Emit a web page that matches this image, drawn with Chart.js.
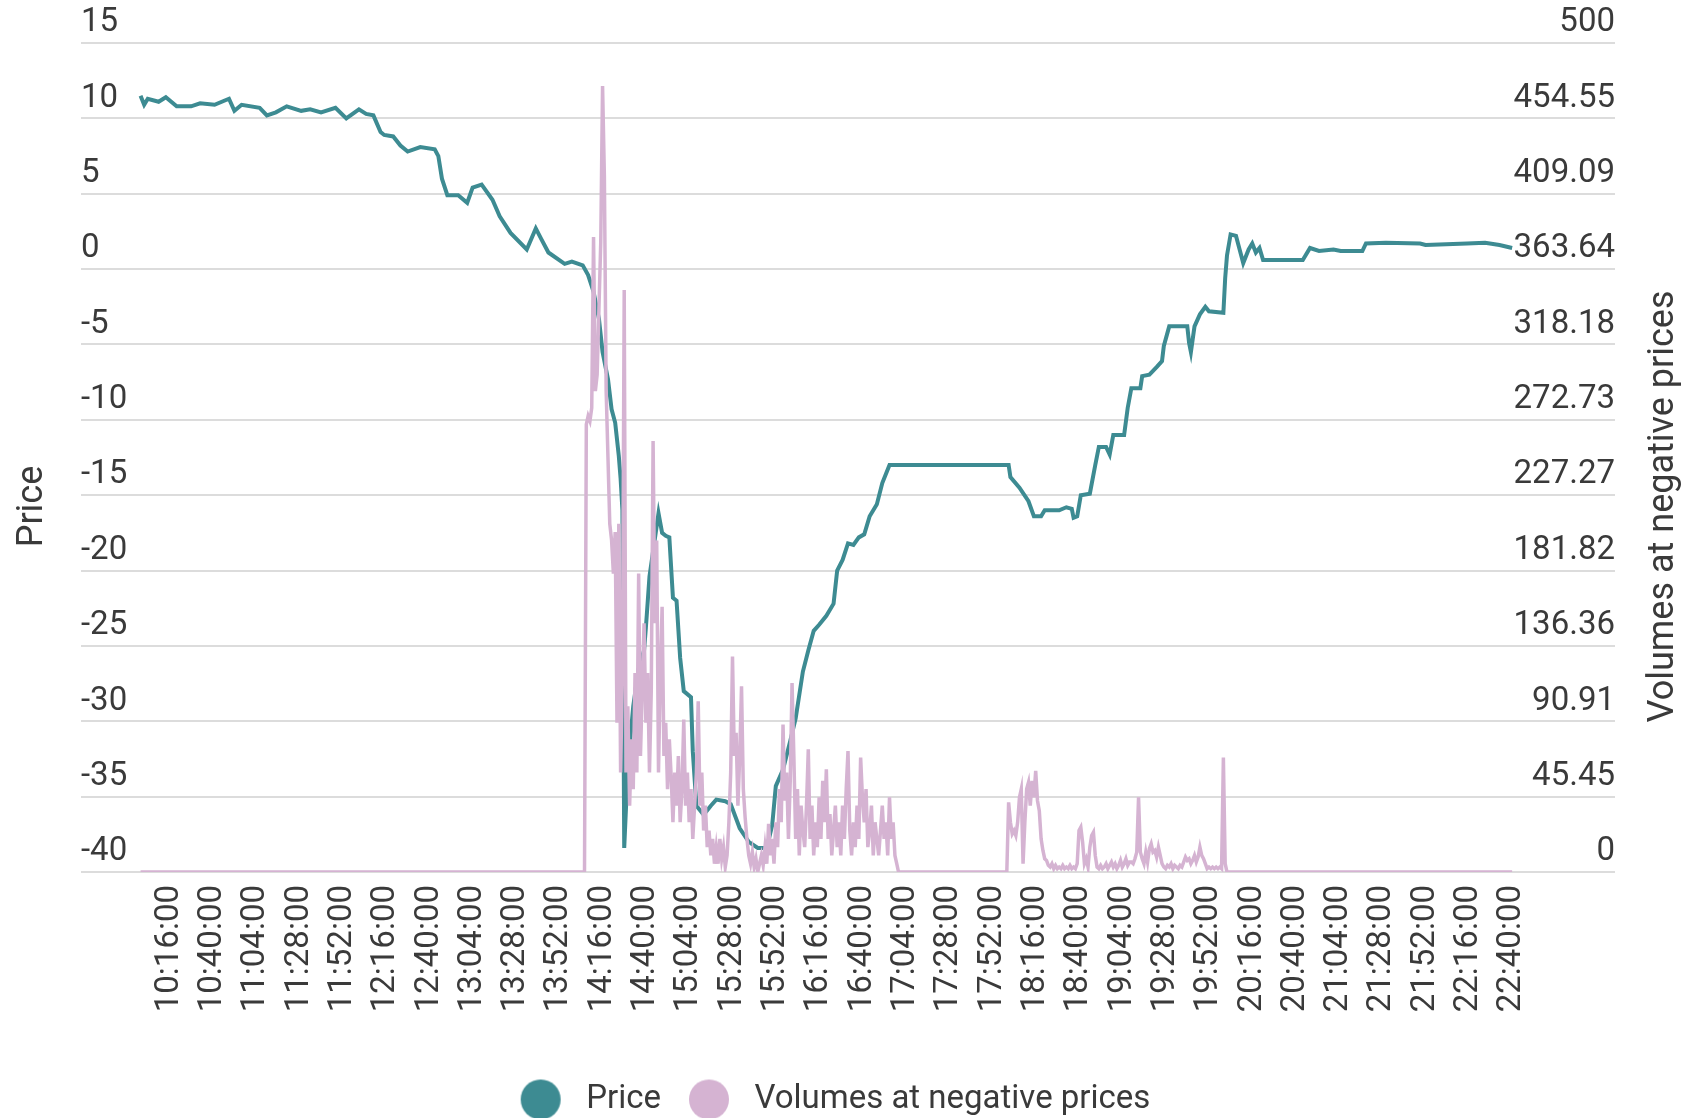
<!DOCTYPE html>
<html>
<head>
<meta charset="utf-8">
<title>Price and volumes at negative prices</title>
<script src="https://cdn.jsdelivr.net/npm/chart.js@4.4.1/dist/chart.umd.min.js"></script>
<style>
  html, body { margin: 0; padding: 0; background: #fff; }
  #chart { display: block; }
</style>
</head>
<body>
<canvas id="chart" width="1688" height="1118"></canvas>
<script>
// x axis tick labels (every 24 minutes)
const tickLabels = ['10:16:00', '10:40:00', '11:04:00', '11:28:00', '11:52:00', '12:16:00', '12:40:00', '13:04:00',
    '13:28:00', '13:52:00', '14:16:00', '14:40:00', '15:04:00', '15:28:00', '15:52:00', '16:16:00',
    '16:40:00', '17:04:00', '17:28:00', '17:52:00', '18:16:00', '18:40:00', '19:04:00', '19:28:00',
    '19:52:00', '20:16:00', '20:40:00', '21:04:00', '21:28:00', '21:52:00', '22:16:00', '22:40:00'];

// price line
const priceTimes = ['10:00', '10:02', '10:04', '10:10', '10:14', '10:20', '10:28', '10:33', '10:41', '10:49',
    '10:52', '10:56', '11:06', '11:10', '11:15', '11:21', '11:29', '11:34', '11:40', '11:48',
    '11:54', '12:01', '12:05', '12:09', '12:13', '12:15', '12:20', '12:24', '12:28', '12:35',
    '12:43', '12:45', '12:47', '12:50', '12:56', '13:01', '13:04', '13:09', '13:15', '13:19',
    '13:25', '13:34', '13:39', '13:42', '13:46', '13:55', '13:59', '14:05', '14:08', '14:11',
    '14:14', '14:16', '14:19', '14:21', '14:23', '14:25', '14:26', '14:27', '14:28', '14:30',
    '14:33', '14:36', '14:39', '14:40', '14:42', '14:47', '14:49', '14:51', '14:53', '14:55',
    '14:57', '14:59', '15:01', '15:05', '15:06', '15:08', '15:12', '15:16', '15:19', '15:24',
    '15:27', '15:32', '15:37', '15:42', '15:47', '15:50', '15:52', '15:56', '16:00', '16:03',
    '16:07', '16:10', '16:13', '16:16', '16:20', '16:24', '16:26', '16:29', '16:32', '16:35',
    '16:38', '16:41', '16:44', '16:48', '16:51', '16:55', '18:01', '18:02', '18:07', '18:12',
    '18:15', '18:19', '18:21', '18:29', '18:33', '18:36', '18:37', '18:39', '18:41', '18:46',
    '18:49', '18:51', '18:55', '18:57', '18:59', '19:05', '19:07', '19:09', '19:14', '19:15',
    '19:19', '19:23', '19:26', '19:27', '19:30', '19:40', '19:41', '19:42', '19:44', '19:47',
    '19:50', '19:52', '20:00', '20:01', '20:02', '20:04', '20:07', '20:09', '20:11', '20:14',
    '20:16', '20:18', '20:20', '20:22', '20:44', '20:48', '20:53', '21:01', '21:05', '21:17',
    '21:19', '21:30', '21:49', '21:52', '22:15', '22:25', '22:33', '22:40'];
const priceValues = [11.5, 10.9, 11.3, 11.1, 11.4, 10.8, 10.8, 11.0, 10.9, 11.3,
    10.5, 10.9, 10.7, 10.2, 10.4, 10.8, 10.5, 10.6, 10.4, 10.7,
    10.0, 10.6, 10.3, 10.2, 9.1, 8.9, 8.8, 8.2, 7.8, 8.1,
    7.95, 7.5, 6.0, 4.9, 4.9, 4.4, 5.4, 5.6, 4.6, 3.5,
    2.4, 1.3, 2.7, 2.0, 1.1, 0.35, 0.5, 0.25, -0.4, -1.5,
    -3.3, -5.5, -7.3, -9.3, -10.2, -12.4, -13.9, -16, -38.4, -33,
    -29, -26.5, -25.3, -23.8, -20.4, -16.2, -17.5, -17.7, -17.8, -21.8,
    -22, -25.8, -28, -28.4, -32, -35.6, -36.2, -35.6, -35.2, -35.3,
    -35.5, -37.1, -38, -38.4, -38.4, -36.9, -34.3, -33.2, -31.3, -29.8,
    -26.7, -25.3, -24, -23.6, -23, -22.2, -20, -19.3, -18.2, -18.3,
    -17.8, -17.6, -16.4, -15.6, -14.2, -13, -13, -13.8, -14.5, -15.4,
    -16.4, -16.4, -16, -16, -15.8, -15.9, -16.5, -16.4, -15, -14.9,
    -13, -11.8, -11.8, -12.3, -11, -11, -9.2, -7.9, -7.9, -7.1,
    -7, -6.5, -6.1, -5.1, -3.8, -3.8, -4.9, -5.5, -3.8, -3,
    -2.5, -2.8, -2.9, -0.6, 0.9, 2.3, 2.2, 1.3, 0.4, 1.3,
    1.7, 1.1, 1.4, 0.6, 0.6, 1.4, 1.2, 1.3, 1.2, 1.2,
    1.7, 1.75, 1.7, 1.6, 1.7, 1.75, 1.6, 1.4];

// volumes at negative prices, one value per minute in the two busy spells
const volStartA = '14:06';
const volA = [0, 270, 275, 272, 280, 383, 290, 300, 340, 380,
    474, 420, 290, 250, 210, 200, 180, 205, 90, 210,
    60, 120, 351, 60, 100, 40, 80, 50, 120, 60,
    180, 70, 110, 150, 90, 120, 60, 110, 260, 150,
    200, 60, 120, 160, 70, 90, 50, 80, 58, 30,
    60, 40, 70, 30, 50, 92, 40, 60, 30, 50,
    20, 40, 60, 103, 40, 60, 25, 40, 15, 25,
    10, 20, 5, 15, 5, 20, 8, 15, 3, 10,
    30, 60, 130, 70, 84, 40, 70, 112, 50, 33,
    20, 10, 5, 12, 3, 8, 0, 5, 10, 4,
    15, 5, 29, 10, 20, 5, 30, 15, 50, 30,
    89, 43, 60, 20, 55, 114, 70, 20, 50, 10,
    40, 25, 15, 40, 74, 20, 40, 10, 30, 15,
    45, 20, 55, 30, 62, 20, 35, 10, 25, 40,
    15, 30, 10, 40, 20, 50, 73, 25, 10, 30,
    15, 40, 20, 69, 45, 30, 50, 15, 25, 40,
    10, 30, 20, 10, 25, 40, 20, 30, 10, 45,
    20, 30, 10, 5, 0];
const volStartB = '18:00';
const volB = [0, 42, 30, 23, 25, 22, 30, 45, 50, 5,
    30, 50, 54, 40, 55, 45, 61, 43, 37, 20,
    13, 8, 7, 4, 3, 5, 2, 4, 2, 3,
    2, 4, 2, 3, 2, 4, 2, 3, 2, 5,
    25, 27, 18, 5, 8, 3, 15, 22, 24, 10,
    3, 2, 4, 2, 3, 5, 2, 4, 6, 3,
    5, 2, 4, 7, 3, 5, 8, 4, 6, 6,
    5, 8, 12, 45, 12, 8, 5, 12, 6, 14,
    17, 12, 13, 9, 15, 10, 5, 3, 2, 4,
    3, 5, 2, 4, 3, 2, 4, 3, 6, 9,
    7, 8, 5, 7, 10, 6, 9, 15, 10, 8,
    5, 2, 3, 2, 3, 2, 3, 2, 3, 2,
    69, 5, 0, 0];
const dayStart = '10:00';
const dayEnd = '22:40';

const teal = '#3d8b92';
const pink = '#d5b3d2';
const textColor = '#3a3a3a';
const gridColor = '#dcdcdc';

// minutes since 10:00
function toMin(t) {
    let parts = t.split(':');
    return parseInt(parts[0]) * 60 + parseInt(parts[1]) - 600;
}

const tickMinutes = tickLabels.map(toMin);

let pricePoints = priceTimes.map((t, i) => ({ x: toMin(t), y: priceValues[i] }));

let volPoints = [{ x: toMin(dayStart), y: 0 }];
volA.forEach((v, i) => volPoints.push({ x: toMin(volStartA) + i, y: v }));
volB.forEach((v, i) => volPoints.push({ x: toMin(volStartB) + i, y: v }));
volPoints.push({ x: toMin(dayEnd), y: 0 });

// legend marker: a round dot, drawn a bit left of its (narrow) legend box
function legendDot(color) {
    let c = document.createElement('canvas');
    c.width = 84;
    c.height = 42;
    let g = c.getContext('2d');
    g.fillStyle = color;
    g.beginPath();
    g.arc(25, 21, 20, 0, Math.PI * 2);
    g.fill();
    return c;
}

// axis titles read bottom-to-top on both sides
const axisTitles = {
    id: 'axisTitles',
    afterDraw(chart) {
        let ctx = chart.ctx;
        let area = chart.chartArea;
        let midY = (area.top + area.bottom) / 2 + 49;
        ctx.save();
        ctx.font = '36px Roboto';
        ctx.fillStyle = textColor;
        ctx.textAlign = 'center';
        ctx.textBaseline = 'middle';
        [['Price', area.left - 48], ['Volumes at negative prices', area.right + 49]].forEach(([txt, x]) => {
            ctx.save();
            ctx.translate(x, midY);
            ctx.rotate(-Math.PI / 2);
            ctx.fillText(txt, 0, 0);
            ctx.restore();
        });
        ctx.restore();
    }
};

Chart.defaults.font.family = 'Roboto';
Chart.defaults.color = textColor;

let ctx = document.getElementById('chart').getContext('2d');
let chart = new Chart(ctx, {
    type: 'line',
    data: {
        datasets: [{
            label: 'Price',
            data: pricePoints,
            yAxisID: 'y',
            borderColor: teal,
            backgroundColor: teal,
            borderWidth: 4,
            pointRadius: 0,
            pointStyle: legendDot(teal),
            tension: 0,
            order: 1
        }, {
            label: 'Volumes at negative prices',
            data: volPoints,
            yAxisID: 'y1',
            borderColor: pink,
            backgroundColor: pink,
            borderWidth: 3.5,
            pointRadius: 0,
            pointStyle: legendDot(pink),
            tension: 0,
            order: 0
        }]
    },
    options: {
        responsive: false,
        animation: false,
        devicePixelRatio: 1,
        layout: { padding: { left: 81, right: 73, top: 43, bottom: -8 } },
        plugins: {
            tooltip: { enabled: false },
            legend: {
                position: 'bottom',
                labels: {
                    usePointStyle: true,
                    pointStyleWidth: 24,
                    boxHeight: 33,
                    padding: 53,
                    font: { size: 33 },
                    color: textColor,
                    sort: (a, b) => a.datasetIndex - b.datasetIndex
                }
            }
        },
        scales: {
            x: {
                type: 'linear',
                min: -33,
                max: 817,
                afterBuildTicks: (axis) => {
                    axis.ticks = tickMinutes.map(v => ({ value: v }));
                },
                afterFit: (axis) => {
                    axis.height = 158;
                },
                ticks: {
                    autoSkip: false,
                    minRotation: 90,
                    maxRotation: 90,
                    padding: 5,
                    font: { size: 33 },
                    callback: (value) => tickLabels[tickMinutes.indexOf(value)]
                },
                grid: { display: false },
                border: { display: false }
            },
            y: {
                position: 'left',
                min: -40,
                max: 15,
                ticks: {
                    stepSize: 5,
                    mirror: true,
                    padding: 0,
                    labelOffset: -20,
                    font: { size: 33 }
                },
                grid: { color: gridColor, lineWidth: 2, drawTicks: false },
                border: { display: false }
            },
            y1: {
                position: 'right',
                min: 0,
                max: 500,
                ticks: {
                    count: 12,
                    mirror: true,
                    padding: 0,
                    labelOffset: -20,
                    font: { size: 33 },
                    callback: (v) => String(Math.round(v * 100) / 100)
                },
                grid: { display: false, drawTicks: false },
                border: { display: false }
            }
        }
    },
    plugins: [axisTitles]
});
</script>
</body>
</html>
